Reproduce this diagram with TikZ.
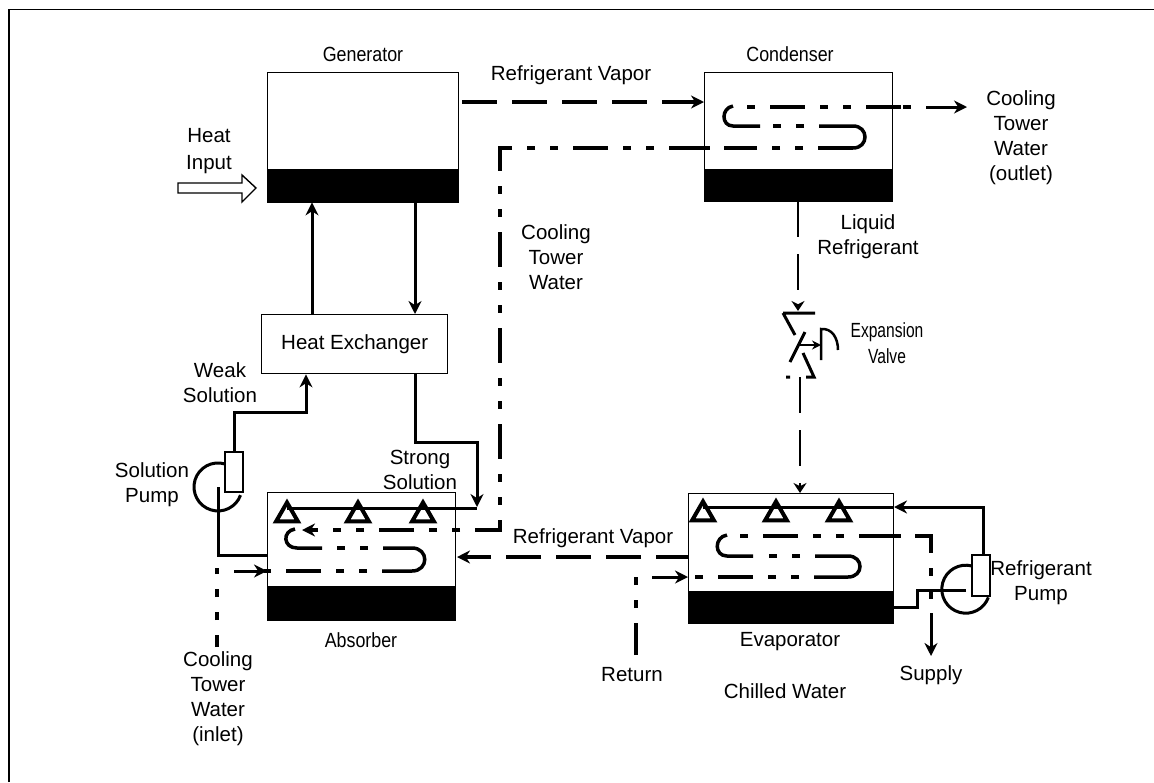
\documentclass[tikz,border=0pt]{standalone}
\usepackage{fontspec}
\setmainfont{Liberation Sans}
\newfontfamily\namefont[FakeStretch=0.87]{Liberation Sans}
\newfontfamily\valvefont[FakeStretch=0.76]{Liberation Sans}
\usetikzlibrary{arrows.meta, positioning, shapes.geometric}
\tikzset{
  vessel/.style={draw, line width=1.4pt, anchor=north west, inner sep=0pt},
  sump/.style={draw, fill=black, anchor=south west, inner sep=0pt},
  pumpbody/.style={draw, line width=2pt, fill=white, minimum width=18pt, inner sep=0pt},
  label/.style={font=\fontsize{20.5}{25}\selectfont, align=center, inner sep=0pt},
  vesselname/.style={font=\namefont\fontsize{20.5}{25}\selectfont, inner sep=0pt},
  pipe/.style={line width=3pt, -{Stealth[length=13pt, width=13pt]}},
  plainpipe/.style={line width=3pt},
  vapor/.style={line width=3.5pt, dash pattern=on 35pt off 15pt, -{Stealth[length=13pt, width=13pt]}},
  liquid/.style={line width=2.5pt, dash pattern=on 36pt off 17pt, -{Stealth[length=10pt, width=13pt]}},
  water/.style={line width=3.5pt, dash pattern=on 35pt off 15pt on 8pt off 15pt on 8pt off 15pt},
  coil/.style={line width=3.5pt},
  nozzle/.style={draw, line width=4pt, regular polygon, regular polygon sides=3, minimum size=25pt, inner sep=0pt}
}
\begin{document}
\begin{tikzpicture}[x=1pt, y=-1pt]
\useasboundingbox (0,0) rectangle (1154,782);
\draw[line width=1.4pt] (9,782) -- (9,9.5) -- (1154,9.5);
% vessels
\node[vessel, minimum width=191pt, minimum height=129pt] (generator) at (267,72) {};
\node[vessel, minimum width=188pt, minimum height=128pt] (condenser) at (704,72) {};
\node[vessel, minimum width=188pt, minimum height=127pt] (absorber) at (267,492) {};
\node[vessel, minimum width=205pt, minimum height=129pt] (evaporator) at (688,493) {};
\node[vessel, minimum width=186pt, minimum height=59pt] (exchanger) at (261,314) {};
\node[label] at (exchanger.center) {Heat Exchanger};
\node[sump, minimum width=191pt, minimum height=33pt] (generatorSump) at (generator.south west) {};
\node[sump, minimum width=188pt, minimum height=32pt] (condenserSump) at (condenser.south west) {};
\node[sump, minimum width=188pt, minimum height=34pt] (absorberSump) at (absorber.south west) {};
\node[sump, minimum width=205pt, minimum height=32pt] (evaporatorSump) at (evaporator.south west) {};
% waypoints
\coordinate (riser) at (312,250);
\coordinate (drop) at (415,250);
\coordinate (weakEnd) at (306,400);
\coordinate (strongEnd) at (477,507);
\coordinate (liquidDrop) at (798,250);
\coordinate (liquidFeed) at (800,420);
% pumps
\draw[line width=3pt] (225,464) arc[start angle=287, end angle=20, radius=24];
\draw[line width=3pt] (972,566) arc[start angle=285, end angle=20, radius=24];
\node[pumpbody, minimum height=40pt] (solutionBody) at (234,472) {};
\node[pumpbody, minimum height=41pt] (refrigerantBody) at (981,575) {};
% solution side
\draw[pipe] (exchanger.north -| riser) -- (generatorSump.south -| riser);
\draw[pipe] (generatorSump.south -| drop) -- (exchanger.north -| drop);
\draw[pipe] (solutionBody.north) -- (234,412) -- (306,412) -- (exchanger.south -| weakEnd);
\draw[plainpipe] (218,487) -- (218,555) -- (absorber.west |- 0,555);
\draw[pipe] (exchanger.south -| drop) -- (415,442) -- (477,442) -- (strongEnd);
\draw[plainpipe] (287,508) -- (477,508);
% nozzles
\foreach \x/\n in {287/a, 358/b, 423/c}
  \node[nozzle] (absorber\n) at (\x,515) {};
\foreach \x/\n in {703/a, 776/b, 839/c}
  \node[nozzle] (evaporator\n) at (\x,514) {};
% refrigerant side
\draw[vapor] (462,102) -- (condenser.west |- 0,102);
\draw[vapor, dash phase=3pt] (evaporator.west |- 0,557) -- (457,557);
\draw[liquid] (condenserSump.south -| liquidDrop) -- (798,311);
\draw[line width=3pt] (783,313) -- (815,313) (783,313) -- (795,335) (805,332) -- (790,362) (803,353) -- (814,377) -- (806,377) (786,377) -- (790,377);
\draw[line width=2pt, -{Stealth[length=9pt, width=9pt]}] (800,345) -- (821,345);
\draw[line width=2.5pt] (821,360) -- (821,329) .. controls (832,328) and (838,338) .. (838,350);
\draw[liquid] (800,377) -- (evaporator.north -| liquidFeed);
\draw[pipe] (983,555) -- (983,507) -- (894,507);
\draw[plainpipe] (703,507) -- (894,507);
\draw[plainpipe] (966,590) -- (917,590) -- (917,607) -- (evaporatorSump.east |- 0,607);
% cooling water, absorber
\draw[water, dash phase=23pt] (217,647) -- (217,568);
\draw[pipe] (234,571) -- (absorber.west |- 0,571);
\draw[water, dash phase=35pt] (382,571) -- (264,571);
\draw[coil] (383,548) -- (412,548) .. controls (429,548) and (429,571) .. (412,571) -- (382,571);
\draw[water, dash phase=35pt] (383,548) -- (323,548);
\draw[coil] (322,548) -- (297,548) .. controls (283,548) and (282,531) .. (295,529);
\draw[water, -{Stealth[length=13pt, width=13pt]}] (condenser.west |- 0,148) -- (500,148) -- (500,530) -- (302,530);
% cooling water, condenser
\draw[coil] (704,148) -- (710,148);
\draw[water] (853,148) -- (724,148);
\draw[coil] (819,126) -- (853,126) .. controls (869,126) and (869,148) .. (853,148);
\draw[water, dash phase=35pt] (819,126) -- (761,126);
\draw[coil] (760,126) -- (733,126) .. controls (721,126) and (721,108) .. (733,106);
\draw[water, dash phase=73pt] (747,107) -- (901,107);
\draw[coil] (903,107) -- (911,107);
\draw[pipe] (926,107) -- (967,107);
% chilled water
\draw[water, dash phase=3pt] (636,655) -- (636,577);
\draw[pipe] (652,577) -- (evaporator.west |- 0,577);
\draw[water, dash phase=35pt] (814,577) -- (695,577);
\draw[coil] (815,556) -- (848,556) .. controls (864,556) and (864,577) .. (848,577) -- (814,577);
\draw[water, dash phase=35pt] (815,556) -- (755,556);
\draw[coil] (753,556) -- (727,556) .. controls (714,556) and (714,537) .. (727,535);
\draw[water, dash phase=73pt] (740,536) -- (894,536);
\draw[coil] (893,536) -- (901,536);
\draw[coil] (915,536) -- (931,536) -- (931,553);
\draw[water, dash phase=50pt] (931,568) -- (931,600);
\draw[pipe] (931,613) -- (931,656);
% heat input
\draw[line width=1.4pt] (178,183) -- (242,183) -- (242,175) -- (256,188) -- (242,202) -- (242,193) -- (178,193) -- cycle;
% labels
\node[vesselname] at (363,54) {Generator};
\node[vesselname] at (790,54) {Condenser};
\node[vesselname] at (361,640) {Absorber};
\node[label] at (790,642) {Evaporator};
\node[label] at (571,75) {Refrigerant Vapor};
\node[label] at (593,538) {Refrigerant Vapor};
\node[label] at (209,151) {Heat\\[2pt]Input};
\node[label] at (1021,138) {Cooling\\Tower\\Water\\(outlet)};
\node[label] at (556,257) {Cooling\\Tower\\Water};
\node[label] at (868,237) {Liquid\\Refrigerant};
\node[label, font=\valvefont\fontsize{20.5}{26}\selectfont] at (887,343) {Expansion\\Valve};
\node[label] at (220,383) {Weak\\Solution};
\node[label] at (152,485) {Solution\\Pump};
\node[label] at (420,470) {Strong\\Solution};
\node[label] at (1041,583) {Refrigerant\\Pump};
\node[label] at (218,699) {Cooling\\Tower\\Water\\(inlet)};
\node[label] at (632,675) {Return};
\node[label] at (931,675) {Supply};
\node[label] at (785,691) {Chilled Water};
\end{tikzpicture}
\end{document}
